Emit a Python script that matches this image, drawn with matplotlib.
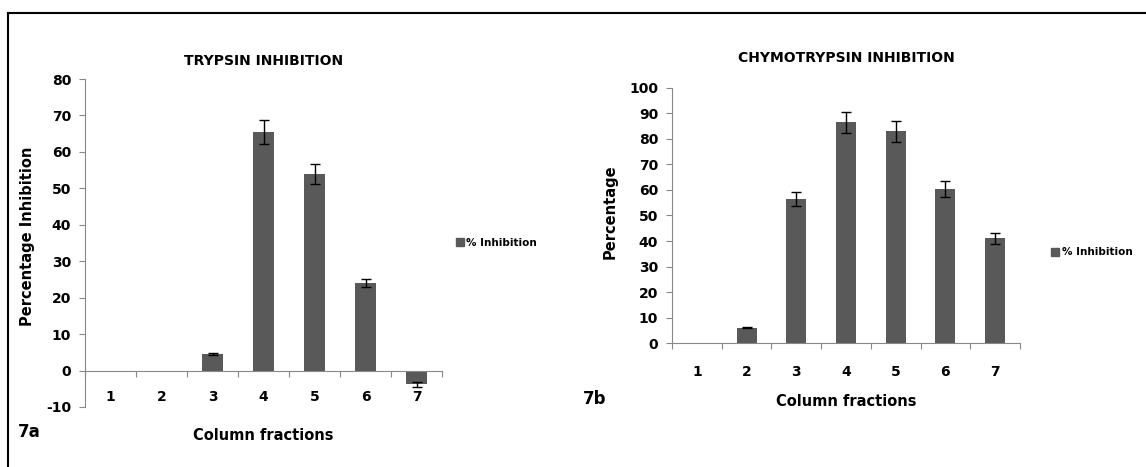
import numpy as np
import matplotlib
matplotlib.use('Agg')
import matplotlib.pyplot as plt
from matplotlib.lines import Line2D
from matplotlib.ticker import FixedLocator, NullFormatter

plt.rcParams['font.family'] = ['DejaVu Sans']
plt.rcParams['font.weight'] = 'bold'
plt.rcParams['axes.unicode_minus'] = False

fractions = ['1', '2', '3', '4', '5', '6', '7']

# trypsin inhibition (%) per column fraction
trypsin = [0, 0, 4.5, 65.5, 54.0, 24.0, -3.8]
trypsin_err = [0, 0, 0.2, 3.3, 2.8, 1.2, 0.7]

# chymotrypsin inhibition (%) per column fraction
chymo = [0, 6.0, 56.5, 86.5, 83.0, 60.5, 41.0]
chymo_err = [0, 0.3, 2.8, 4.2, 4.0, 3.2, 2.2]

bar_color = '#595959'


def draw_panel(ax, vals, errs, ylim, ystep, title, ylabel, label_pad, title_pad):
    x = np.arange(1, len(vals) + 1)
    shown = [e > 0 for e in errs]
    ax.bar(x, vals, width=0.4, color=bar_color, zorder=2)
    xe = [xi for xi, s in zip(x, shown) if s]
    ve = [v for v, s in zip(vals, shown) if s]
    ee = [e for e, s in zip(errs, shown) if s]
    ax.errorbar(xe, ve, yerr=ee, fmt='none', ecolor='black', elinewidth=1,
                capsize=3.5, capthick=1, zorder=3)
    ax.set_xlim(0.5, len(vals) + 0.5)
    ax.set_ylim(*ylim)
    ax.set_yticks(np.arange(ylim[0], ylim[1] + 1, ystep))
    for side in ['top', 'right']:
        ax.spines[side].set_visible(False)
    ax.spines['bottom'].set_position(('data', 0))
    ax.spines['left'].set_color('#888888')
    ax.spines['bottom'].set_color('#888888')
    # category boundaries get the tick marks, centres get the labels
    ax.xaxis.set_major_locator(FixedLocator(np.arange(0.5, len(vals) + 1, 1)))
    ax.xaxis.set_major_formatter(NullFormatter())
    ax.xaxis.set_minor_locator(FixedLocator(x))
    ax.set_xticklabels(fractions, minor=True)
    ax.tick_params(axis='x', which='major', direction='out', length=4,
                   color='#888888')
    ax.tick_params(axis='x', which='minor', length=0, pad=label_pad,
                   labelsize=10)
    ax.tick_params(axis='y', direction='out', length=4, color='#888888',
                   labelsize=10, pad=6)
    ax.set_title(title, fontsize=10, fontweight='bold', pad=title_pad)
    ax.set_ylabel(ylabel, fontsize=10.5, fontweight='bold')
    handle = Line2D([], [], marker='s', color='none', markerfacecolor=bar_color,
                    markeredgecolor=bar_color, markersize=6)
    ax.legend([handle], ['% Inhibition'], loc='center left',
              bbox_to_anchor=(1.0, 0.5), frameon=False, fontsize=7.5,
              handletextpad=0.1, handlelength=1.0)


fig = plt.figure(figsize=(11.46, 4.67), dpi=100)

ax1 = fig.add_axes([0.0742, 0.1285, 0.3115, 0.7023])
draw_panel(ax1, trypsin, trypsin_err, (-10, 80), 10,
           'TRYPSIN INHIBITION', 'Percentage Inhibition', 14, 10)
ax1.set_xlabel('Column fractions', fontsize=10.5, fontweight='bold')
ax1.xaxis.set_label_coords(0.5, -0.065)
ax1.yaxis.set_label_coords(-0.14, 0.52)
ax1.get_legend().set_bbox_to_anchor((1.01, 0.5))

ax2 = fig.add_axes([0.5864, 0.2655, 0.3036, 0.5461])
draw_panel(ax2, chymo, chymo_err, (0, 100), 10,
           'CHYMOTRYPSIN INHIBITION', 'Percentage', 16, 19)
ax2.set_xlabel('Column fractions', fontsize=10.5, fontweight='bold')
ax2.xaxis.set_label_coords(0.5, -0.2)
ax2.yaxis.set_label_coords(-0.155, 0.515)
ax2.get_legend().set_bbox_to_anchor((1.06, 0.355))

fig.text(0.016, 0.064, '7a', fontsize=12, fontweight='bold')
fig.text(0.509, 0.135, '7b', fontsize=12, fontweight='bold')

# frame lines along the top and left edge
fig.add_artist(Line2D([0.007, 1.0], [0.972, 0.972], color='black', lw=1.5))
fig.add_artist(Line2D([0.007, 0.007], [0.0, 0.972], color='black', lw=1.5))

fig.savefig('out.png', dpi=100)
